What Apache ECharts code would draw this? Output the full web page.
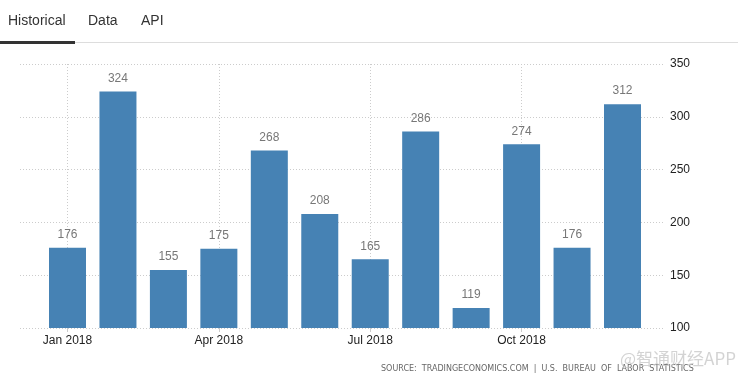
<!DOCTYPE html>
<html><head><meta charset="utf-8">
<script src="https://cdn.jsdelivr.net/npm/echarts@6/dist/echarts.min.js"></script>
<style>html,body{margin:0;padding:0;background:#fff}#c{width:738px;height:381px}</style>
</head><body><div id="c"></div>
<script>
const categories = ['Jan 2018','Feb 2018','Mar 2018','Apr 2018','May 2018','Jun 2018','Jul 2018','Aug 2018','Sep 2018','Oct 2018','Nov 2018','Dec 2018'];
const values = [176, 324, 155, 175, 268, 208, 165, 286, 119, 274, 176, 312];
const tabs = ['Historical', 'Data', 'API'];
const yMin = 100, yMax = 350, yStep = 50;

const chart = echarts.init(document.getElementById('c'), null, {renderer: 'canvas'});
const font = '"Liberation Sans", Arial, sans-serif';
chart.setOption({
  animation: false,
  grid: [
    {left: 20, right: 74, top: 64, bottom: 53},
    {left: 67.5, right: 115.5, top: 64, bottom: 53}
  ],
  xAxis: [
    {gridIndex: 0, type: 'value', show: false},
    {gridIndex: 1, type: 'category', data: categories, boundaryGap: false,
     axisLine: {show: false},
     axisTick: {show: true, interval: 2, length: 4, lineStyle: {color: '#ccc'}},
     axisLabel: {interval: 2, color: '#222', fontFamily: font, fontSize: 12, margin: 7},
     splitLine: {show: true, interval: 2, lineStyle: {color: '#ccc', type: [1, 2]}}}
  ],
  yAxis: [
    {gridIndex: 0, type: 'value', position: 'right', min: yMin, max: yMax, interval: yStep,
     axisLine: {show: false}, axisTick: {show: false},
     axisLabel: {color: '#222', fontFamily: font, fontSize: 12, margin: 6},
     splitLine: {lineStyle: {color: '#ccc', type: [1, 2]}}},
    {gridIndex: 1, type: 'value', min: yMin, max: yMax, interval: yStep, show: false,
     splitLine: {show: false}}
  ],
  series: [{
    type: 'bar', xAxisIndex: 1, yAxisIndex: 1, data: values, barWidth: 37,
    itemStyle: {color: '#4682B4'},
    label: {show: true, position: 'top', distance: 7, color: '#777', fontFamily: font, fontSize: 12}
  }],
  graphic: [
    {type: 'rect', shape: {x: 0, y: 42, width: 738, height: 1}, style: {fill: '#ddd'}},
    {type: 'rect', shape: {x: 0, y: 41, width: 75, height: 3}, style: {fill: '#333'}},
    {type: 'text', left: 8, top: 14, style: {text: tabs[0], fill: '#333', font: '14px ' + font}},
    {type: 'text', left: 88, top: 14, style: {text: tabs[1], fill: '#333', font: '14px ' + font}},
    {type: 'text', left: 141, top: 14, style: {text: tabs[2], fill: '#333', font: '14px ' + font}},
    {type: 'text', left: 381, top: 365, style: {text: 'SOURCE:  TRADINGECONOMICS.COM  |  U.S.  BUREAU  OF  LABOR  STATISTICS', fill: '#666', font: '8px "DejaVu Sans", Verdana, sans-serif'}},
    {type: 'text', left: 620, top: 350, style: {text: '@智通财经APP', fill: 'rgba(200,200,200,0.8)', font: '17px "Noto Sans CJK SC", sans-serif'}}
  ]
});
</script></body></html>
